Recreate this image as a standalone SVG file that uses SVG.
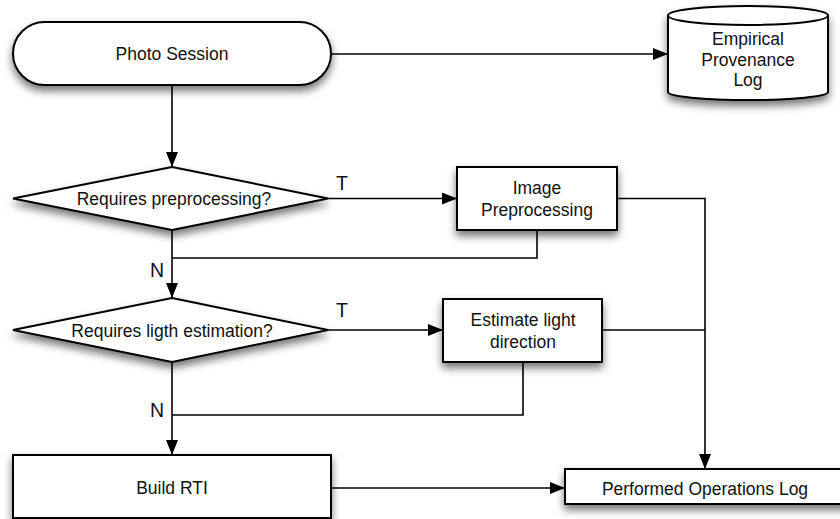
<svg xmlns="http://www.w3.org/2000/svg" width="840" height="519" viewBox="0 0 840 519">
<defs>
<filter id="sh" x="-20%" y="-30%" width="140%" height="180%">
<feDropShadow dx="0" dy="5" stdDeviation="4" flood-color="#000" flood-opacity="0.55"/>
</filter>
<marker id="ah" markerUnits="userSpaceOnUse" markerWidth="16" markerHeight="12" refX="15" refY="6" orient="auto">
<path d="M0,0 L15,6 L0,12 z" fill="#000"/>
</marker>
</defs>
<style>
.shape{fill:#fff;stroke:#000;stroke-width:2;filter:url(#sh)}
.t{font-family:"Liberation Sans",Arial,sans-serif;font-size:17.5px;fill:#111;text-anchor:middle}
.lbl{font-family:"Liberation Sans",Arial,sans-serif;font-size:19.5px;fill:#111;text-anchor:middle}
.c{fill:none;stroke:#000;stroke-width:1.6}
.a{marker-end:url(#ah)}
</style>
<rect width="840" height="519" fill="#fff"/>
<g id="connectors">
<path class="c a" d="M331,54 H668"/>
<path class="c a" d="M172,85 V167"/>
<path class="c a" d="M328,198.5 H457"/>
<path class="c" d="M537,230 V258 H172"/>
<path class="c a" d="M617,198.5 H705 V469"/>
<path class="c a" d="M172,230 V298"/>
<path class="c a" d="M328,330 H443"/>
<path class="c" d="M602,330 H705"/>
<path class="c" d="M523,362 V415 H172"/>
<path class="c a" d="M172,362 V455"/>
<path class="c a" d="M331,488 H565"/>
<text class="lbl" x="342" y="190">T</text>
<text class="lbl" x="342" y="317">T</text>
<text class="lbl" x="157" y="277">N</text>
<text class="lbl" x="157" y="417">N</text>
</g>
<g id="photo-session">
<rect class="shape" x="13" y="22" width="318" height="63" rx="31.5" ry="31.5"/>
<text class="t" x="172" y="60">Photo Session</text>
</g>
<g id="empirical-log">
<path class="shape" d="M668,15.5 V92 A80,8 0 0 0 828,92 V15.5 A80,9.5 0 0 0 668,15.5 Z"/>
<path fill="none" stroke="#000" stroke-width="2" d="M668,15.5 A80,9.5 0 0 0 828,15.5"/>
<text class="t" x="748" y="45">Empirical</text>
<text class="t" x="748" y="66">Provenance</text>
<text class="t" x="748" y="86">Log</text>
</g>
<g id="requires-preprocessing">
<path class="shape" d="M172,167 L328,198.5 L172,230 L13,198.5 Z"/>
<text class="t" x="174" y="205">Requires preprocessing?</text>
</g>
<g id="image-preprocessing">
<rect class="shape" x="457" y="167" width="160" height="63"/>
<text class="t" x="537" y="194">Image</text>
<text class="t" x="537" y="216">Preprocessing</text>
</g>
<g id="requires-light">
<path class="shape" d="M172,298 L328,330 L172,362 L13,330 Z"/>
<text class="t" x="172" y="337">Requires ligth estimation?</text>
</g>
<g id="estimate-light">
<rect class="shape" x="443" y="299" width="159" height="63"/>
<text class="t" x="523" y="326">Estimate light</text>
<text class="t" x="523" y="348">direction</text>
</g>
<g id="build-rti">
<rect class="shape" x="13" y="455" width="318" height="63"/>
<text class="t" x="172" y="494">Build RTI</text>
</g>
<g id="performed-log">
<rect class="shape" x="565" y="469" width="290" height="35"/>
<text class="t" x="705" y="495">Performed Operations Log</text>
</g>
</svg>
